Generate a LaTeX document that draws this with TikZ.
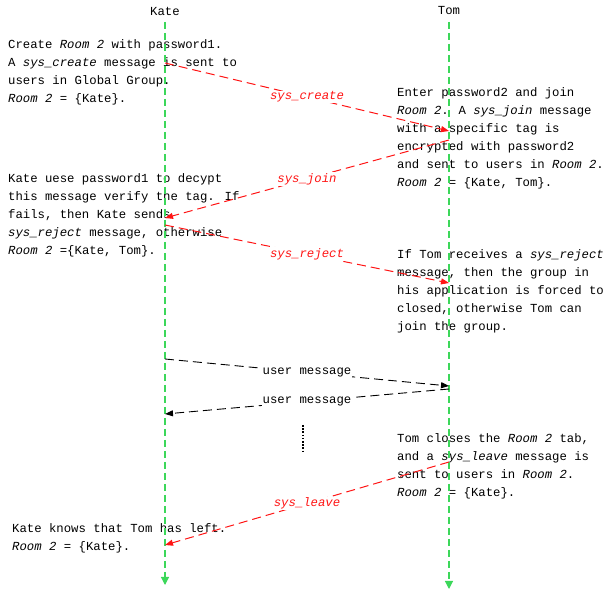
\documentclass[tikz,border=0pt]{standalone}
\usepackage{fontspec}
\setmainfont{Liberation Mono}
\usepackage{tikz}
\usetikzlibrary{arrows.meta}
\definecolor{lifegreen}{RGB}{60,215,90}
\definecolor{msgred}{RGB}{255,20,20}
\tikzset{
  actor/.style={font=\fontsize{12.3}{18}\selectfont},
  lifeline/.style={draw=lifegreen, line width=1.15pt, dash pattern=on 7pt off 4pt, -{Triangle[length=8pt,width=8pt]}},
  note/.style={anchor=north west, inner sep=0pt, align=left, font=\fontsize{12.3}{18}\selectfont},
  sysmsg/.style={draw=msgred, line width=1pt, dash pattern=on 9pt off 5pt, -{Triangle[length=8pt,width=6pt]}},
  usermsg/.style={draw=black, line width=0.9pt, dash pattern=on 9pt off 5pt, -{Triangle[length=8pt,width=6pt]}},
  syslabel/.style={midway, fill=white, inner sep=1pt, text=msgred, font=\fontsize{12.3}{18}\selectfont\itshape},
  userlabel/.style={midway, fill=white, inner sep=1pt, font=\fontsize{12.3}{18}\selectfont}
}

\begin{document}
\begin{tikzpicture}[x=1pt, y=-1pt]
    \useasboundingbox (0,0) rectangle (611,593);

    % actors
    \node (kate) [actor] at (165,11) {Kate};
    \node (tom) [actor] at (449,11) {Tom};

    % notes
    \node (create) [note] at (8,39)
    {Create \textit{Room 2} with password1.\\ A \textit{sys\_create} message is sent to\\ users in Global Group.\\ \textit{Room 2} = \{Kate\}.};

    \node (join) [note] at (397,87)
    {Enter password2 and join\\ \textit{Room 2}. A \textit{sys\_join} message\\ with a specific tag is\\ encrypted with password2\\ and sent to users in \textit{Room 2}.\\ \textit{Room 2} = \{Kate, Tom\}.};

    \node (verify) [note] at (8,173)
    {Kate uese password1 to decypt\\ this message verify the tag. If\\ fails, then Kate sends\\ \textit{sys\_reject} message, otherwise\\ \textit{Room 2} =\{Kate, Tom\}.};

    \node (reject) [note] at (397,249)
    {If Tom receives a \textit{sys\_reject}\\ message, then the group in\\ his application is forced to\\ closed, otherwise Tom can\\ join the group.};

    \node (close) [note] at (397,433)
    {Tom closes the \textit{Room 2} tab,\\ and a \textit{sys\_leave} message is\\ sent to users in \textit{Room 2}.\\ \textit{Room 2} = \{Kate\}.};

    \node (left) [note] at (12,523)
    {Kate knows that Tom has left.\\ \textit{Room 2} = \{Kate\}.};

    % points on the lifelines
    \coordinate (k0) at (165,22);
    \coordinate (k1) at (165,63);
    \coordinate (k2) at (165,218);
    \coordinate (k3) at (165,225);
    \coordinate (k4) at (165,359);
    \coordinate (k5) at (165,414);
    \coordinate (k6) at (165,545);
    \coordinate (kend) at (165,585);
    \coordinate (t0) at (449,22);
    \coordinate (t1) at (449,131);
    \coordinate (t2) at (449,140);
    \coordinate (t3) at (449,283);
    \coordinate (t4) at (449,386);
    \coordinate (t5) at (449,389);
    \coordinate (t6) at (449,462);
    \coordinate (tend) at (449,589);
    \coordinate (dtop) at (303,425);
    \coordinate (dbot) at (303,451);

    % lifelines
    \draw [lifeline] (k0) -- (kend);
    \draw [lifeline] (t0) -- (tend);

    % messages
    \draw [sysmsg] (k1) -- node[syslabel] {sys\_create} (t1);
    \draw [sysmsg] (t2) -- node[syslabel] {sys\_join} (k2);
    \draw [sysmsg] (k3) -- node[syslabel] {sys\_reject} (t3);
    \draw [usermsg] (k4) -- node[userlabel] {user message} (t4);
    \draw [usermsg] (t5) -- node[userlabel] {user message} (k5);
    \draw [black, line width=1.6pt, dash pattern=on 1.6pt off 1.6pt] (dtop) -- (dbot);
    \draw [sysmsg] (t6) -- node[syslabel] {sys\_leave} (k6);

\end{tikzpicture}
\end{document}
